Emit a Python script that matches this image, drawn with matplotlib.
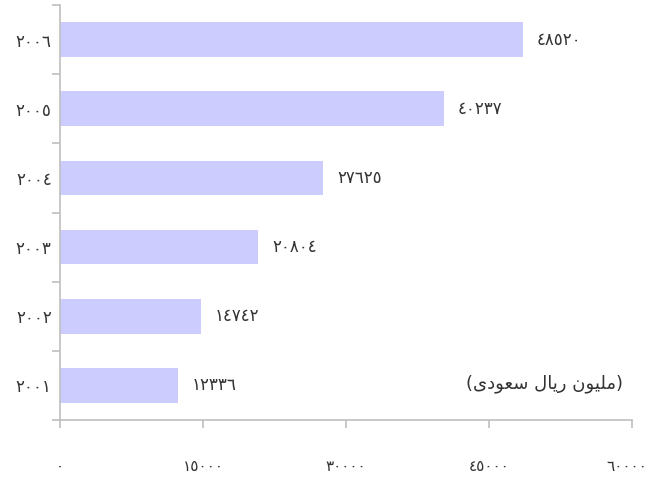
import matplotlib
matplotlib.use("Agg")
import matplotlib.pyplot as plt
from matplotlib.ticker import FixedLocator
from matplotlib.transforms import ScaledTranslation

years = ["٢٠٠١", "٢٠٠٢", "٢٠٠٣", "٢٠٠٤", "٢٠٠٥", "٢٠٠٦"]
values = [12336, 14742, 20804, 27625, 40237, 48520]
value_labels = ["١٢٣٣٦", "١٤٧٤٢", "٢٠٨٠٤", "٢٧٦٢٥", "٤٠٢٣٧", "٤٨٥٢٠"]
x_ticks = [0, 15000, 30000, 45000, 60000]
x_tick_labels = ["٠", "١٥٠٠٠", "٣٠٠٠٠", "٤٥٠٠٠", "٦٠٠٠٠"]
# "(مليون ريال سعودى)" shaped with presentation forms, in visual (left-to-right) order
unit_logical_words = ["\uFEE3\uFEE0\uFEF4\uFEEE\uFEE5",   # مليون
                      "\uFEAD\uFEF3\uFE8E\uFEDD",         # ريال
                      "\uFEB3\uFECC\uFEEE\uFEA9\uFEEF"]   # سعودى
unit_label = "(" + " ".join(w[::-1] for w in unit_logical_words[::-1]) + ")"

plt.rcParams['font.family'] = ['DejaVu Sans']
fig = plt.figure(figsize=(6.52, 4.83), dpi=100)
ax = fig.add_axes([60/652, 63/483, 572/652, 415/483])

bar_color = "#CCCCFF"
grey = "#BFBFBF"
txt = "#333333"
fs = 12
pos = list(range(len(years)))
ax.barh(pos, values, height=0.5, color=bar_color)
ax.set_xlim(0, 60000)
ax.set_ylim(-0.5, len(years) - 0.5)

for p, v, lab in zip(pos, values, value_labels):
    ax.annotate(lab, (v, p), xytext=(10, 0), textcoords="offset points",
                ha="left", va="center", fontsize=fs, color=txt)

ax.set_yticks(pos)
ax.set_yticklabels(years, fontsize=fs, color=txt)
ax.tick_params(axis="y", which="major", length=0, pad=6)
ax.yaxis.set_minor_locator(FixedLocator([i - 0.5 for i in range(len(years) + 1)]))
ax.tick_params(axis="y", which="minor", length=6, color=grey, width=1.2, direction="out")

ax.set_xticks(x_ticks)
ax.set_xticklabels(x_tick_labels, fontsize=11, color=txt)
ax.tick_params(axis="x", which="major", length=6, color=grey, width=1.2, pad=22)
last = ax.get_xticklabels()[-1]
last.set_transform(last.get_transform() + ScaledTranslation(-4/72, 0, fig.dpi_scale_trans))

for s in ["top", "right"]:
    ax.spines[s].set_visible(False)
for s in ["left", "bottom"]:
    ax.spines[s].set_color(grey)
    ax.spines[s].set_linewidth(1.2)

ax.text(0.985, 0.087, unit_label, transform=ax.transAxes, ha="right", va="center",
        fontsize=13, color=txt)

fig.savefig("out.png", dpi=100)
